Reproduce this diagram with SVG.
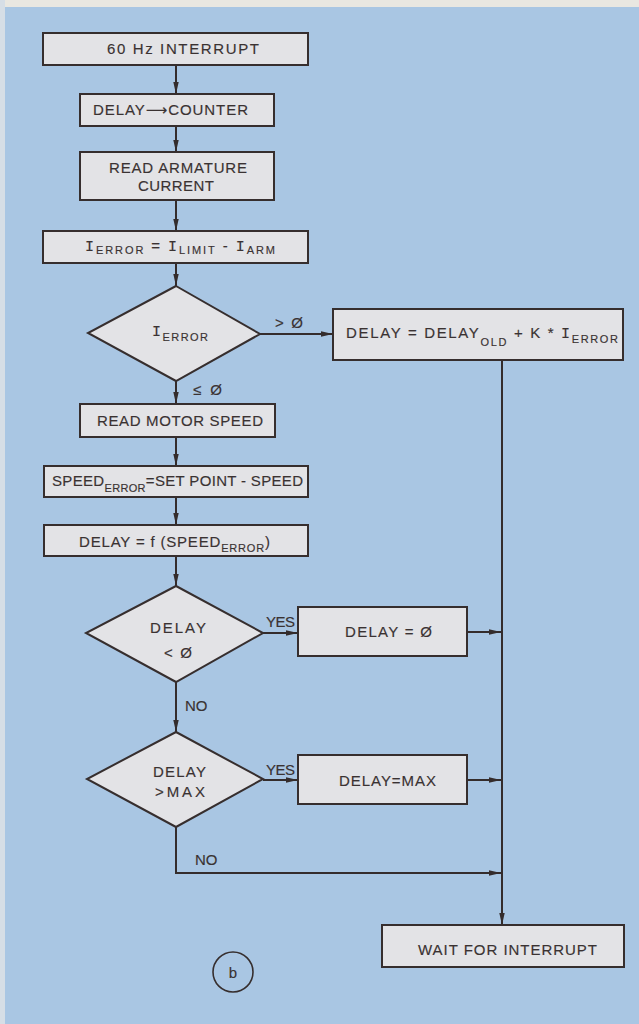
<svg xmlns="http://www.w3.org/2000/svg" width="639" height="1024" viewBox="0 0 639 1024">
<defs>
<marker id="ah" markerUnits="userSpaceOnUse" markerWidth="13" markerHeight="8" refX="12" refY="3.5" orient="auto">
<path d="M0,0.8 L12,3.5 L0,6.2 z" fill="#342c2c"/>
</marker>
<style>
.bx{fill:#e3e3e6;stroke:#362e2e;stroke-width:2}
.t{font-family:"Liberation Sans","DejaVu Sans",sans-serif;font-size:15px;fill:#3a3232;stroke:#3a3232;stroke-width:0.15}
.s{font-size:11px}
.I{font-family:"Liberation Mono",monospace}
.ar{fill:none;stroke:#342c2c;stroke-width:2;marker-end:url(#ah)}
</style>
</defs>
<rect x="0" y="0" width="639" height="1024" fill="#a9c6e3"/>
<rect x="0" y="0" width="639" height="7" fill="#e9e7e1"/>
<rect x="0" y="0" width="5" height="1024" fill="#d6dee6"/>

<g id="connectors">
<line class="ar" x1="176" y1="65" x2="176" y2="94"/>
<line class="ar" x1="176" y1="126" x2="176" y2="152"/>
<line class="ar" x1="176" y1="200" x2="176" y2="231"/>
<line class="ar" x1="176" y1="263" x2="176" y2="286"/>
<line class="ar" x1="260" y1="334" x2="333" y2="334"/>
<line class="ar" x1="176" y1="381" x2="176" y2="404"/>
<line class="ar" x1="176" y1="437" x2="176" y2="466"/>
<line class="ar" x1="176" y1="497" x2="176" y2="525"/>
<line class="ar" x1="176" y1="556" x2="176" y2="586"/>
<line class="ar" x1="263" y1="633" x2="298" y2="633"/>
<line class="ar" x1="467" y1="632" x2="501" y2="632"/>
<line class="ar" x1="176" y1="682" x2="176" y2="732"/>
<line class="ar" x1="263" y1="780" x2="298" y2="780"/>
<line class="ar" x1="467" y1="780" x2="501" y2="780"/>
<polyline class="ar" points="176,827 176,873 501,873"/>
<line class="ar" x1="502" y1="360" x2="502" y2="925"/>
<text class="t" x="275" y="328" textLength="28">&gt; Ø</text>
<text class="t" x="193" y="395" textLength="29">≤ Ø</text>
<text class="t" x="185" y="711" font-size="14">NO</text>
<text class="t" x="266" y="627" font-size="14" textLength="29">YES</text>
<text class="t" x="266" y="775" font-size="14" textLength="29">YES</text>
<text class="t" x="195" y="865" font-size="14">NO</text>
</g>

<g id="n1">
<rect class="bx" x="43" y="33" width="265" height="32"/>
<text class="t" x="107" y="54" textLength="152">60 Hz INTERRUPT</text>
</g>
<g id="n2">
<rect class="bx" x="80" y="94" width="194" height="32"/>
<text class="t" x="93" y="115" textLength="155">DELAY<tspan font-family="DejaVu Sans">⟶</tspan>COUNTER</text>
</g>
<g id="n3">
<rect class="bx" x="80" y="152" width="194" height="48"/>
<text class="t" x="109" y="173" textLength="138">READ ARMATURE</text>
<text class="t" x="138" y="191" textLength="76">CURRENT</text>
</g>
<g id="n4">
<rect class="bx" x="43" y="231" width="265" height="32"/>
<text class="t" x="85" y="251" textLength="190"><tspan class="I">I</tspan><tspan class="s" dy="3">ERROR</tspan><tspan dy="-3"> = </tspan><tspan class="I">I</tspan><tspan class="s" dy="3">LIMIT</tspan><tspan dy="-3">  -  </tspan><tspan class="I">I</tspan><tspan class="s" dy="3">ARM</tspan></text>
</g>
<g id="d1">
<polygon class="bx" points="176,286 260,334 176,381 88,333"/>
<text class="t" x="152" y="336" textLength="56"><tspan class="I">I</tspan><tspan class="s" dy="5">ERROR</tspan></text>
</g>
<g id="n5">
<rect class="bx" x="333" y="309" width="290" height="51"/>
<text class="t" x="346" y="338" textLength="272">DELAY  =  DELAY<tspan class="s" dy="8">OLD</tspan><tspan dy="-8">   +  K * </tspan><tspan class="I">I</tspan><tspan class="s" dy="5">ERROR</tspan></text>
</g>
<g id="n6">
<rect class="bx" x="80" y="404" width="195" height="33"/>
<text class="t" x="97" y="426" textLength="166">READ MOTOR  SPEED</text>
</g>
<g id="n7">
<rect class="bx" x="44" y="466" width="264" height="31"/>
<text class="t" x="52" y="486" textLength="251">SPEED<tspan class="s" dy="6">ERROR</tspan><tspan dy="-6">=SET POINT - SPEED</tspan></text>
</g>
<g id="n8">
<rect class="bx" x="44" y="525" width="264" height="31"/>
<text class="t" x="79" y="547" textLength="191">DELAY = f (SPEED<tspan class="s" dy="5">ERROR</tspan><tspan dy="-5">)</tspan></text>
</g>
<g id="d2">
<polygon class="bx" points="176,586 263,633 176,682 86,633"/>
<text class="t" x="150" y="633" textLength="56">DELAY</text>
<text class="t" x="164" y="658" textLength="28">&lt; Ø</text>
</g>
<g id="n9">
<rect class="bx" x="298" y="607" width="169" height="49"/>
<text class="t" x="345" y="637" textLength="87">DELAY = Ø</text>
</g>
<g id="d3">
<polygon class="bx" points="176,732 263,779 176,827 87,779"/>
<text class="t" x="153" y="777" textLength="53">DELAY</text>
<text class="t" x="155" y="797" textLength="50">&gt;MAX</text>
</g>
<g id="n10">
<rect class="bx" x="298" y="755" width="169" height="49"/>
<text class="t" x="339" y="786" textLength="97">DELAY=MAX</text>
</g>
<g id="n11">
<rect class="bx" x="382" y="925" width="242" height="42"/>
<text class="t" x="418" y="955" textLength="179">WAIT FOR  INTERRUPT</text>
</g>
<g id="label-b">
<circle cx="233" cy="972" r="20" fill="none" stroke="#362e2e" stroke-width="1.6"/>
<text class="t" x="233" y="978" text-anchor="middle" font-size="17">b</text>
</g>
</svg>
